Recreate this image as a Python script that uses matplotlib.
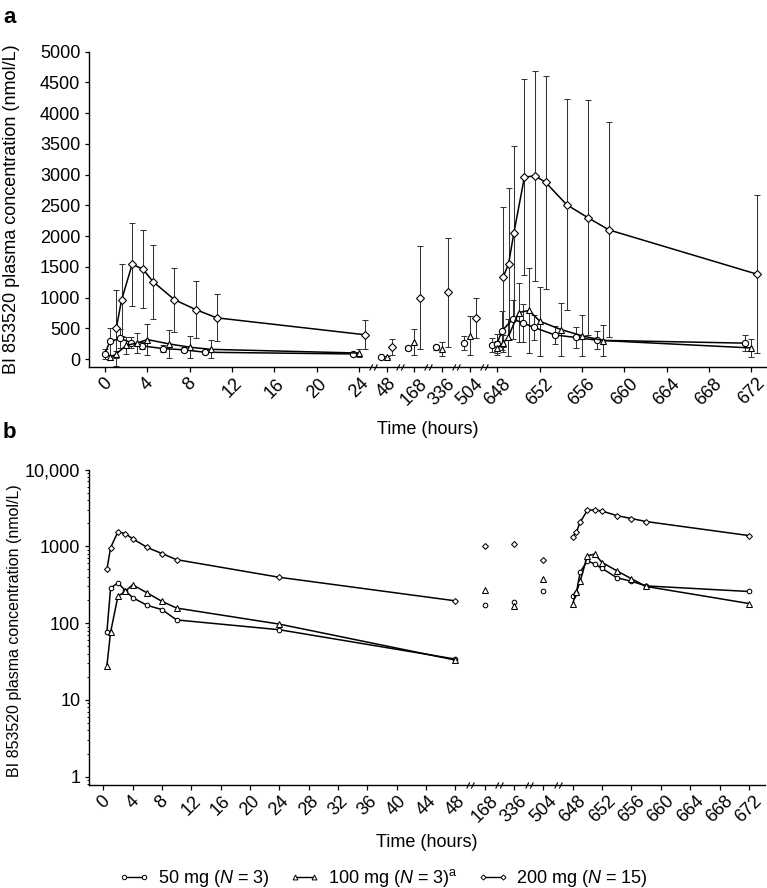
import numpy as np
import matplotlib
matplotlib.use('Agg')
import matplotlib.pyplot as plt
from matplotlib.transforms import ScaledTranslation, blended_transform_factory
from matplotlib.path import Path
from matplotlib.lines import Line2D
from matplotlib.ticker import FixedLocator, LogLocator, NullFormatter, FixedFormatter

plt.rcParams['font.family'] = ['Liberation Sans', 'DejaVu Sans']
plt.rcParams['mathtext.fontset'] = 'custom'
plt.rcParams['mathtext.rm'] = 'Liberation Sans'
plt.rcParams['mathtext.it'] = 'Liberation Sans:italic'

# ---------------- data ----------------
ticks_a = [0, 4, 8, 12, 16, 20, 24, 48, 168, 336, 504, 648, 652, 656, 660, 664, 668, 672]
ticks_b = [0, 4, 8, 12, 16, 20, 24, 28, 32, 36, 40, 44, 48, 168, 336, 504,
           648, 652, 656, 660, 664, 668, 672]

t_dose1 = [0.5, 1, 2, 3, 4, 6, 8, 10, 24]
t_mid = [48, 168, 336, 504]
t_dose2 = [648, 648.5, 649, 650, 651, 652, 654, 656, 658, 672]

# 50 mg (N = 3)
mg50_d1 = [77, 285, 335, 265, 215, 170, 150, 110, 82]
mg50_d1_sd = [80, 220, 150, 90, 60, 50, 40, 30, 25]
mg50_mid = [34, 174, 188, 259]
mg50_mid_sd = [15, 30, 40, 117]
mg50_d2 = [225, 250, 460, 650, 585, 515, 390, 350, 305, 258]
mg50_d2_sd = [114, 150, 317, 317, 315, 203, 148, 174, 146, 130]

# 100 mg (N = 3)
mg100_d1 = [28, 76, 223, 259, 316, 247, 192, 157, 97]
mg100_d1_sd = [40, 60, 140, 160, 252, 228, 180, 146, 60]
mg100_mid = [33, 272, 169, 379]
mg100_mid_sd = [20, 209, 114, 317]
mg100_d2 = [180, 255, 350, 755, 790, 615, 480, 378, 300, 180]
mg100_d2_sd = [110, 140, 300, 475, 697, 564, 437, 331, 250, 146]

# 200 mg (N = 15)
mg200_d1 = [500, 960, 1540, 1465, 1255, 965, 805, 670, 395]
mg200_d1_sd = [620, 590, 670, 630, 600, 520, 465, 380, 235]
mg200_mid = [195, 1000, 1085, 660]
mg200_mid_sd = [137, 835, 890, 326]
mg200_d2 = [1340, 1545, 2050, 2960, 2980, 2875, 2510, 2300, 2100, 1380]
mg200_d2_sd = [1140, 1235, 1415, 1595, 1710, 1730, 1715, 1915, 1750, 1285]

labels = [r'50 mg ($\mathit{N}$ = 3)', r'100 mg ($\mathit{N}$ = 3)$^{\mathrm{a}}$',
          r'200 mg ($\mathit{N}$ = 15)']

# ---------------- helpers ----------------
def broken_scale(ticks, gap):
    pos = [0.0]
    for a, b in zip(ticks[:-1], ticks[1:]):
        pos.append(pos[-1] + (1.0 if b - a == 4 else gap))
    kt = np.array([ticks[0] - 400] + list(ticks) + [ticks[-1] + 400], float)
    kp = np.array([pos[0] - 100] + pos + [pos[-1] + 100], float)
    fwd = lambda x: np.interp(x, kt, kp)
    inv = lambda p: np.interp(p, kp, kt)
    return fwd, inv

def break_points(ticks, fwd, inv):
    out = []
    for a, b in zip(ticks[:-1], ticks[1:]):
        if b - a != 4:
            out.append(float(inv((fwd(a) + fwd(b)) / 2.0)))
    return out

brk_path = Path([(-2.5, -2), (-0.5, 2), (0.5, -2), (2.5, 2)],
                [Path.MOVETO, Path.LINETO, Path.MOVETO, Path.LINETO])

W, H = 767, 888
fig = plt.figure(figsize=(W / 100, H / 100), dpi=100)

def rect(l, t, r, b):
    return [l / W, 1 - b / H, (r - l) / W, (b - t) / H]

axa = fig.add_axes(rect(89.3, 51.7, 766, 367.3))
axb = fig.add_axes(rect(89.3, 469.5, 765, 785))

fwd_a, inv_a = broken_scale(ticks_a, 0.655)
fwd_b, inv_b = broken_scale(ticks_b, 1.0)
axa.set_xscale('function', functions=(fwd_a, inv_a))
axb.set_xscale('function', functions=(fwd_b, inv_b))

for ax in (axa, axb):
    for s in ('top', 'right'):
        ax.spines[s].set_visible(False)
    for s in ('left', 'bottom'):
        ax.spines[s].set_linewidth(1.0)
    ax.tick_params(axis='both', which='major', direction='out', width=0.9,
                   labelsize=13, color='black')
    ax.tick_params(axis='x', length=3.6, pad=2)
    ax.tick_params(axis='y', length=3.0, pad=3.5)

ecol = '#333333'
styles = [('o', 4.5, 3.3, -4.2), ('^', 4.8, 3.8, 0.0), ('D', 3.6, 3.0, 4.2)]
groups = [
    (mg50_d1, mg50_d1_sd, mg50_mid, mg50_mid_sd, mg50_d2, mg50_d2_sd),
    (mg100_d1, mg100_d1_sd, mg100_mid, mg100_mid_sd, mg100_d2, mg100_d2_sd),
    (mg200_d1, mg200_d1_sd, mg200_mid, mg200_mid_sd, mg200_d2, mg200_d2_sd),
]

# ---------------- panel a ----------------
for (mk, msa, msb, dx), (d1, d1s, mid, mids, d2, d2s) in zip(styles, groups):
    tr = axa.transData + ScaledTranslation(dx / 72, 0, fig.dpi_scale_trans)
    for tt, mm, ss in ((t_dose1, d1, d1s), (t_mid, mid, mids), (t_dose2, d2, d2s)):
        mm = np.asarray(mm, float); ss = np.asarray(ss, float)
        axa.vlines(tt, mm - ss, mm + ss, colors=ecol, lw=0.75, transform=tr, zorder=1)
        axa.plot(tt, mm + ss, ls='none', marker='_', ms=4.5, mew=0.75, color=ecol,
                 transform=tr, zorder=1)
        axa.plot(tt, mm - ss, ls='none', marker='_', ms=4.5, mew=0.75, color=ecol,
                 transform=tr, zorder=1)
    kw = dict(marker=mk, ms=msa, mfc='white', mec='black', mew=0.8, color='black',
              lw=1.1, transform=tr, zorder=3)
    axa.plot(t_dose1, d1, **kw)
    axa.plot(t_mid, mid, ls='none', **{k: v for k, v in kw.items() if k != 'lw'})
    axa.plot(t_dose2, d2, **kw)

axa.set_ylim(-135, 5000)
axa.set_yticks(np.arange(0, 5001, 500))
axa.set_xlim(-1.5, 673.4)
axa.xaxis.set_major_locator(FixedLocator(ticks_a))
axa.xaxis.set_major_formatter(FixedFormatter([str(t) for t in ticks_a]))
axa.xaxis.set_minor_locator(FixedLocator([]))
for lab in axa.get_xticklabels():
    lab.set_rotation(45); lab.set_ha('center')
axa.set_xlabel('Time (hours)', fontsize=13)
axa.xaxis.set_label_coords(0.5, -0.17)
axa.set_ylabel('BI 853520 plasma concentration (nmol/L)', fontsize=13)
axa.yaxis.set_label_coords(-0.103, 0.5)

# ---------------- panel b ----------------
for (mk, msa, msb, dx), (d1, d1s, mid, mids, d2, d2s) in zip(styles, groups):
    kw = dict(marker=mk, ms=msb, mfc='white', mec='black', mew=0.75, color='black',
              lw=1.1, zorder=3)
    axb.plot(t_dose1 + t_mid[:1], d1 + mid[:1], **kw)
    axb.plot(t_mid[1:], mid[1:], ls='none', **{k: v for k, v in kw.items() if k != 'lw'})
    axb.plot(t_dose2, d2, **kw)

axb.set_yscale('log')
axb.set_ylim(0.78, 10000)
axb.yaxis.set_major_locator(FixedLocator([1, 10, 100, 1000, 10000]))
axb.yaxis.set_major_formatter(FixedFormatter(['1', '10', '100', '1000', '10,000']))
axb.yaxis.set_minor_locator(LogLocator(base=10, subs=np.arange(2, 10)))
axb.yaxis.set_minor_formatter(NullFormatter())
axb.tick_params(axis='y', which='minor', length=1.8, width=0.7)
axb.set_xlim(-1.9, 674.2)
axb.xaxis.set_major_locator(FixedLocator(ticks_b))
axb.xaxis.set_major_formatter(FixedFormatter([str(t) for t in ticks_b]))
axb.xaxis.set_minor_locator(FixedLocator([]))
for lab in axb.get_xticklabels():
    lab.set_rotation(45); lab.set_ha('center')
axb.set_xlabel('Time (hours)', fontsize=13)
axb.xaxis.set_label_coords(0.5, -0.155)
axb.set_ylabel('BI 853520 plasma concentration (nmol/L)', fontsize=11.5)
axb.yaxis.set_label_coords(-0.1, 0.49)

# axis break marks
for ax, ticks, fwd, inv in ((axa, ticks_a, fwd_a, inv_a), (axb, ticks_b, fwd_b, inv_b)):
    bt = blended_transform_factory(ax.transData, ax.transAxes)
    bx = break_points(ticks, fwd, inv)
    ax.plot(bx, [0] * len(bx), ls='none', marker=brk_path, ms=5.5, mew=0.8,
            color='black', transform=bt, clip_on=False, zorder=5)

# panel letters
fig.text(0.004, 1 - 22.7 / H, 'a', fontsize=16, fontweight='bold', va='baseline')
fig.text(0.004, 1 - 437.5 / H, 'b', fontsize=16, fontweight='bold', va='baseline')

# legend
handles = [Line2D([], [], color='black', lw=1.0, marker=m, ms=s, mfc='white',
                  mec='black', mew=0.7)
           for m, s in (('o', 3.2), ('^', 3.5), ('D', 2.6))]
fig.legend(handles, labels, loc='center', bbox_to_anchor=(0.5, 1 - 878 / H),
           ncol=3, frameon=False, fontsize=13, numpoints=2, handlelength=1.7,
           handletextpad=0.45, columnspacing=1.1, borderpad=0, borderaxespad=0)

fig.savefig('out.png', dpi=100)
